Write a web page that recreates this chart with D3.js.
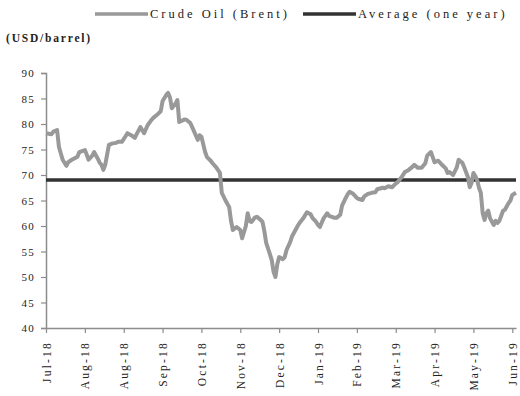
<!DOCTYPE html>
<html>
<head>
<meta charset="utf-8">
<script src="https://cdn.jsdelivr.net/npm/d3@7"></script>
<style>
  html, body { margin: 0; padding: 0; background: #fff; }
  svg { display: block; }
  text { font-family: "Liberation Serif", "Times New Roman", serif; fill: #222; }
</style>
</head>
<body>
<svg id="chart" width="520" height="396"></svg>
<script>
// Brent crude, trading-day index from early July 2018 (USD/barrel)
const brentDay = [0,3,4,6,7,9,11,12,14,15,17,18,21,22,23,25,26,28,29,30,31,32,34,36,38,39,41,43,44,46,48,49,51,53,55,57,58,60,62,63,65,66,67,68,70,71,72,75,76,78,79,82,83,84,86,87,89,90,92,94,95,97,99,100,101,103,105,106,108,109,110,111,113,114,116,117,118,119,121,122,123,124,125,126,128,129,130,132,133,136,137,139,141,143,144,146,147,148,150,152,153,156,157,159,160,162,163,164,166,168,169,171,172,174,176,178,179,182,183,185,187,189,190,192,194,196,198,199,201,203,205,206,208,209,210,212,214,216,217,218,220,222,223,224,225,226,228,229,230,231,232,233,234,235,236,237,238,239,240,242,243,244,245,247,248,250,251,252,254];
const brentPrice = [78.2,78.0,78.5,78.8,75.5,73.0,71.8,72.5,73.0,73.2,73.6,74.5,74.9,74.0,73.0,73.8,74.5,73.2,72.4,72.0,71.0,72.0,75.9,76.2,76.3,76.5,76.5,77.6,78.2,77.8,77.3,78.0,79.4,78.2,79.8,80.8,81.2,81.8,82.5,84.5,85.7,86.1,85.2,83.1,84.0,84.7,80.4,80.9,80.8,80.2,79.4,76.9,77.8,77.5,74.5,73.5,72.8,72.3,71.5,70.4,66.5,65.0,63.7,61.0,59.2,59.8,59.2,57.6,60.0,62.5,61.0,60.8,61.7,61.8,61.2,60.8,59.0,56.7,54.5,53.3,51.0,50.0,52.5,53.9,53.5,53.9,55.3,56.9,58.0,60.0,60.6,61.5,62.7,62.3,61.6,60.8,60.2,59.8,61.5,62.5,62.0,61.6,61.6,62.2,64.0,65.5,66.2,66.7,66.3,65.5,65.3,65.1,65.8,66.3,66.5,66.6,67.2,67.5,67.4,67.8,67.6,68.3,68.6,69.5,70.6,71.0,71.6,72.0,71.4,71.4,72.3,73.8,74.5,73.5,72.5,72.8,72.0,71.3,70.4,70.6,70.0,71.5,73.0,72.7,72.4,71.5,69.6,67.6,68.5,70.4,69.8,69.0,67.5,66.5,62.5,61.2,62.5,63.0,61.5,60.2,61.0,60.6,61.0,63.0,63.2,64.5,65.0,66.1,66.5];
const averagePrice = 69.0;

// Category ticks every 21 trading days
const tickDays = [0,21,42,63,84,105,126,147,168,189,210,231,252];
const tickLabels = ["Jul-18","Aug-18","Aug-18","Sep-18","Oct-18","Nov-18","Dec-18","Jan-19","Feb-19","Mar-19","Apr-19","May-19","Jun-19"];
const yTicks = [40,45,50,55,60,65,70,75,80,85,90];

const seriesNames = ["Crude Oil (Brent)", "Average (one year)"];
const seriesColors = ["#999999", "#333333"];

const svg = d3.select("#chart");
const plotLeft = 46, plotRight = 516, plotTop = 73, plotBottom = 328;

const x = d3.scaleLinear().domain([0, 254]).range([plotLeft, plotRight]);
const y = d3.scaleLinear().domain([40, 90]).range([plotBottom, plotTop]);

const axisColor = "#8c8c8c";

// Y axis
const yAxis = svg.append("g")
  .attr("transform", `translate(${plotLeft},0)`)
  .call(d3.axisLeft(y).tickValues(yTicks).tickSize(5).tickPadding(6).tickFormat(d3.format("d")));
yAxis.select(".domain").attr("stroke", axisColor).attr("stroke-width", 1.5);
yAxis.selectAll(".tick line").attr("stroke", axisColor).attr("stroke-width", 1.2);
yAxis.selectAll(".tick text")
  .attr("font-family", "Liberation Serif, serif")
  .attr("font-size", 11).attr("letter-spacing", 1.2).attr("fill", "#222");

// X axis
const xAxis = svg.append("g")
  .attr("transform", `translate(0,${plotBottom})`)
  .call(d3.axisBottom(x).tickValues(tickDays).tickSize(5).tickSizeOuter(0)
    .tickFormat((d, i) => tickLabels[i]));
xAxis.select(".domain").attr("stroke", axisColor).attr("stroke-width", 1.5);
xAxis.selectAll(".tick line").attr("stroke", axisColor).attr("stroke-width", 1.2);
xAxis.selectAll(".tick text")
  .attr("font-family", "Liberation Serif, serif")
  .attr("font-size", 11.5).attr("letter-spacing", 2.2).attr("fill", "#222")
  .attr("text-anchor", "end")
  .attr("transform", "rotate(-90)")
  .attr("x", -13).attr("y", 0).attr("dy", "0.35em");

// Average line
svg.append("line")
  .attr("x1", x(0)).attr("x2", x(254))
  .attr("y1", y(averagePrice)).attr("y2", y(averagePrice))
  .attr("stroke", seriesColors[1]).attr("stroke-width", 3.5);

// Brent line
const pts = brentDay.map((d, i) => [d, brentPrice[i]]);
svg.append("path")
  .datum(pts)
  .attr("fill", "none")
  .attr("stroke", seriesColors[0])
  .attr("stroke-width", 4)
  .attr("stroke-linejoin", "round")
  .attr("d", d3.line().x(d => x(d[0])).y(d => y(d[1])));

// Legend
const legend = [
  { name: seriesNames[0], color: seriesColors[0], x0: 95 },
  { name: seriesNames[1], color: seriesColors[1], x0: 303 }
];
legend.forEach(l => {
  svg.append("line")
    .attr("x1", l.x0).attr("x2", l.x0 + 53)
    .attr("y1", 14).attr("y2", 14)
    .attr("stroke", l.color).attr("stroke-width", 3.5);
  svg.append("text")
    .attr("x", l.x0 + 55).attr("y", 18)
    .attr("font-size", 12.5).attr("letter-spacing", 3)
    .text(l.name);
});

// Unit label
svg.append("text")
  .attr("x", 6).attr("y", 42)
  .attr("font-size", 11.5).attr("font-weight", "bold").attr("letter-spacing", 1.8)
  .text("(USD/barrel)");
</script>
</body>
</html>
